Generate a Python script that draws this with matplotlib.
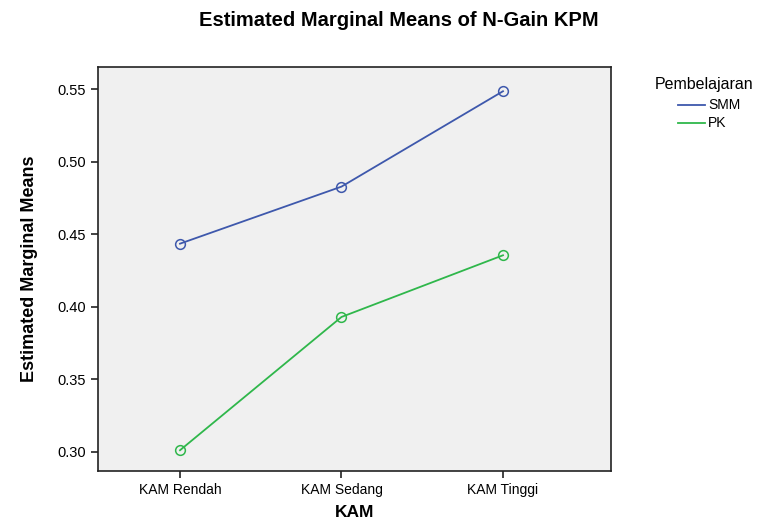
import matplotlib
matplotlib.use('Agg')
import matplotlib.pyplot as plt
from matplotlib.lines import Line2D

plt.rcParams['font.family'] = ['Liberation Sans', 'DejaVu Sans']

# data
kam_levels = ['KAM Rendah', 'KAM Sedang', 'KAM Tinggi']
smm_means = [0.4435, 0.4828, 0.5485]
pk_means = [0.3012, 0.3930, 0.4355]
y_ticks = [0.30, 0.35, 0.40, 0.45, 0.50, 0.55]
groups = ['SMM', 'PK']
colors = ['#3e58ac', '#2fb74b']

W, H = 763, 519
fig = plt.figure(figsize=(W / 100, H / 100), dpi=100)
ax = fig.add_axes([0.1284, 0.0925, 0.6724, 0.7784])
ax.set_facecolor('#f0f0f0')

x = list(range(len(kam_levels)))
for vals, col, name in zip([smm_means, pk_means], colors, groups):
    ax.plot(x, vals, color=col, linewidth=1.3, marker='o', markersize=7,
            markerfacecolor='none', markeredgewidth=1.1, label=name)

ax.set_xlim(-0.508, 2.669)
ax.set_ylim(0.2869, 0.5652)
ax.set_xticks(x)
ax.set_xticklabels(kam_levels, fontsize=10)
ax.set_yticks(y_ticks)
ax.set_yticklabels([f'{v:.2f}' for v in y_ticks], fontsize=10.5)
ax.tick_params(direction='out', length=5, width=1.2, color='#222222')

for spine in ax.spines.values():
    spine.set_linewidth(1.2)
    spine.set_color('#222222')

ax.set_xlabel('KAM', fontsize=12.5, fontweight='bold', labelpad=6)
ax.set_ylabel('Estimated Marginal Means', fontsize=13, fontweight='bold', labelpad=14)
fig.text(399 / W, 1 - 20 / H, 'Estimated Marginal Means of N-Gain KPM',
         ha='center', va='center', fontsize=14.5, fontweight='bold')

# legend drawn by hand, as in the SPSS layout
fig.text(655 / W, 1 - 85 / H, 'Pembelajaran', ha='left', va='center', fontsize=11.5)
for i, (name, col) in enumerate(zip(groups, colors)):
    yy = 1 - (105 + 18 * i) / H
    fig.add_artist(Line2D([678 / W, 705 / W], [yy, yy], color=col, linewidth=1.3,
                          transform=fig.transFigure))
    fig.text(708 / W, yy, name, ha='left', va='center', fontsize=10)

fig.savefig('out.png', dpi=100)
